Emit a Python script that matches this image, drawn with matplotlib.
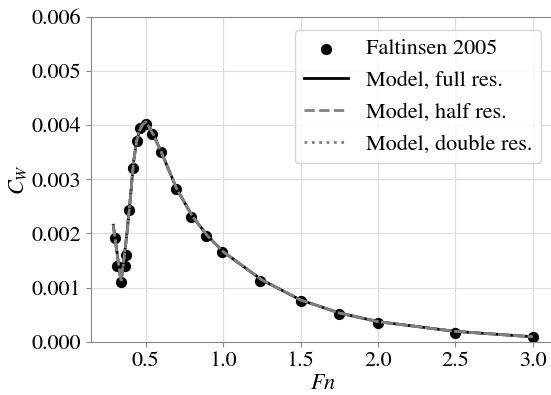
import matplotlib
matplotlib.use("Agg")
import matplotlib.pyplot as plt
from matplotlib.ticker import FormatStrFormatter

plt.rcParams["font.family"] = "STIXGeneral"
plt.rcParams["mathtext.fontset"] = "stix"
plt.rcParams["font.size"] = 16

# Faltinsen 2005 reference data
fn_exp = [0.30, 0.315, 0.34, 0.365, 0.37, 0.39, 0.415, 0.44, 0.465, 0.50, 0.54,
          0.595, 0.695, 0.795, 0.89, 0.99, 1.24, 1.5, 1.75, 2.0, 2.5, 3.0]
cw_exp = [0.00191, 0.00139, 0.00111, 0.00139, 0.00160, 0.00243, 0.00320, 0.00370,
          0.00394, 0.00402, 0.00383, 0.00351, 0.00282, 0.00231, 0.00195, 0.00165,
          0.00112, 0.00075, 0.00052, 0.00034, 0.00016, 0.00008]

# model results
fn_model = [0.29, 0.32, 0.34, 0.36, 0.38, 0.40, 0.42, 0.44, 0.46, 0.48, 0.50, 0.52,
            0.55, 0.6, 0.7, 0.8, 0.9, 1.0, 1.25, 1.5, 1.75, 2.0, 2.5, 3.0]
cw_full = [0.00215, 0.00152, 0.00110, 0.00155, 0.00205, 0.00265, 0.00330, 0.00370,
           0.00390, 0.00402, 0.00406, 0.00398, 0.00382, 0.00350, 0.00282, 0.00232,
           0.00195, 0.00166, 0.00114, 0.00077, 0.00053, 0.00037, 0.00019, 0.00009]
cw_half = [0.00213, 0.00150, 0.00112, 0.00156, 0.00204, 0.00264, 0.00328, 0.00369,
           0.00390, 0.00401, 0.00405, 0.00397, 0.00381, 0.00350, 0.00282, 0.00232,
           0.00195, 0.00166, 0.00114, 0.00077, 0.00053, 0.00037, 0.00019, 0.00009]
cw_double = [0.00216, 0.00153, 0.00110, 0.00155, 0.00206, 0.00266, 0.00331, 0.00371,
             0.00391, 0.00403, 0.00406, 0.00398, 0.00382, 0.00350, 0.00282, 0.00232,
             0.00195, 0.00166, 0.00114, 0.00077, 0.00053, 0.00037, 0.00019, 0.00009]

fig = plt.figure(figsize=(5.51, 3.95), dpi=100)
ax = fig.add_axes([0.1652, 0.135, 0.8415, 0.8227])

ax.scatter(fn_exp, cw_exp, s=50, color="black", label="Faltinsen 2005", zorder=2)
ax.plot(fn_model, cw_full, "-", color="black", lw=2, label="Model, full res.", zorder=3)
ax.plot(fn_model, cw_half, "--", color="gray", lw=2, label="Model, half res.", zorder=3)
ax.plot(fn_model, cw_double, ":", color="gray", lw=2, label="Model, double res.", zorder=3)

ax.set_xlim(0.146, 3.142)
ax.set_ylim(0, 0.006)
ax.set_xticks([0.5, 1.0, 1.5, 2.0, 2.5, 3.0])
ax.set_yticks([0.000, 0.001, 0.002, 0.003, 0.004, 0.005, 0.006])
ax.yaxis.set_major_formatter(FormatStrFormatter("%.3f"))
ax.grid(True, color="#dddddd", lw=0.9)
ax.set_axisbelow(True)
for s in ax.spines.values():
    s.set_color("#888888")
ax.tick_params(color="#888888")

ax.set_xlabel("$Fn$", labelpad=2)
ax.set_ylabel("$C_W$", labelpad=2)

ax.legend(loc="upper right", borderaxespad=0.6)

fig.savefig("out.png", dpi=100)
